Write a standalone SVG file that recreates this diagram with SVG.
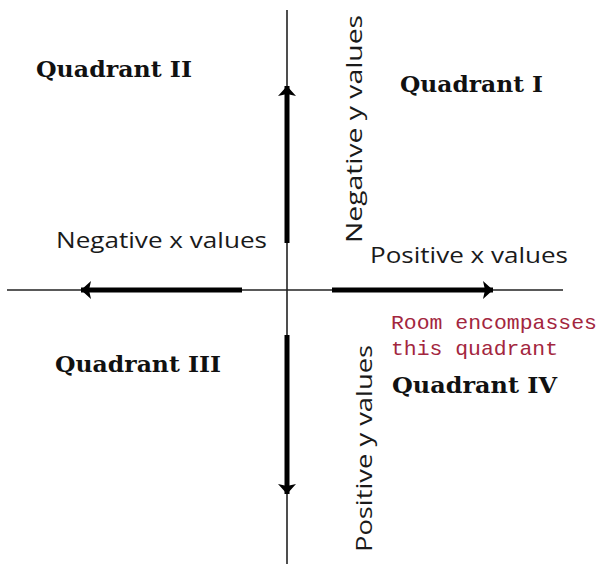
<svg xmlns="http://www.w3.org/2000/svg" width="600" height="564" viewBox="0 0 600 564">
  <style>
    .quad { font-family: "DejaVu Serif", "Liberation Serif", serif; font-weight: bold; font-size: 23px; fill: #111; }
    .lab { font-family: "Open Sans", "Liberation Sans", sans-serif; font-size: 21px; fill: #1a1a1a; }
    .note { font-family: "Liberation Mono", "DejaVu Sans Mono", monospace; font-size: 21px; fill: #a3263e; }
    .axis { stroke: #222; stroke-width: 1.6; fill: none; }
    .arrow { stroke: #000; stroke-width: 5; fill: none; marker-end: url(#head); }
  </style>
  <defs>
    <marker id="head" markerUnits="userSpaceOnUse" markerWidth="12" markerHeight="18" refX="10" refY="9" orient="auto">
      <path d="M0,0 L10,9 L0,18 L2,9 Z" fill="#000"/>
    </marker>
  </defs>
  <rect width="600" height="564" fill="#fff"/>
  <g id="connectors">
    <line class="axis" x1="287" y1="10" x2="287" y2="564"/>
    <line class="axis" x1="7" y1="290" x2="563" y2="290"/>
    <line class="arrow" x1="287" y1="243" x2="287" y2="86"/>
    <line class="arrow" x1="287" y1="335" x2="287" y2="494"/>
    <line class="arrow" x1="242" y1="290" x2="81" y2="290"/>
    <line class="arrow" x1="332" y1="290" x2="493" y2="290"/>
  </g>
  <g id="quadrant-2"><text class="quad" x="36" y="77" textLength="156" lengthAdjust="spacingAndGlyphs">Quadrant II</text></g>
  <g id="quadrant-1"><text class="quad" x="400" y="92" textLength="143" lengthAdjust="spacingAndGlyphs">Quadrant I</text></g>
  <g id="quadrant-3"><text class="quad" x="55" y="372" textLength="166" lengthAdjust="spacingAndGlyphs">Quadrant III</text></g>
  <g id="quadrant-4"><text class="quad" x="392" y="393" textLength="165" lengthAdjust="spacingAndGlyphs">Quadrant IV</text></g>
  <g id="neg-x"><text class="lab" x="56" y="248" textLength="211" lengthAdjust="spacingAndGlyphs">Negative x values</text></g>
  <g id="pos-x"><text class="lab" x="370" y="263" textLength="198" lengthAdjust="spacingAndGlyphs">Positive x values</text></g>
  <g id="neg-y"><text class="lab" transform="translate(362,243) rotate(-90)" x="0" y="0" font-size="23" textLength="228" lengthAdjust="spacingAndGlyphs">Negative y values</text></g>
  <g id="pos-y"><text class="lab" transform="translate(372,552) rotate(-90)" x="0" y="0" font-size="23" textLength="207" lengthAdjust="spacingAndGlyphs">Positive y values</text></g>
  <g id="note">
    <text class="note" x="391" y="329" textLength="206" lengthAdjust="spacingAndGlyphs">Room encompasses</text>
    <text class="note" x="391" y="355" textLength="167" lengthAdjust="spacingAndGlyphs">this quadrant</text>
  </g>
</svg>
